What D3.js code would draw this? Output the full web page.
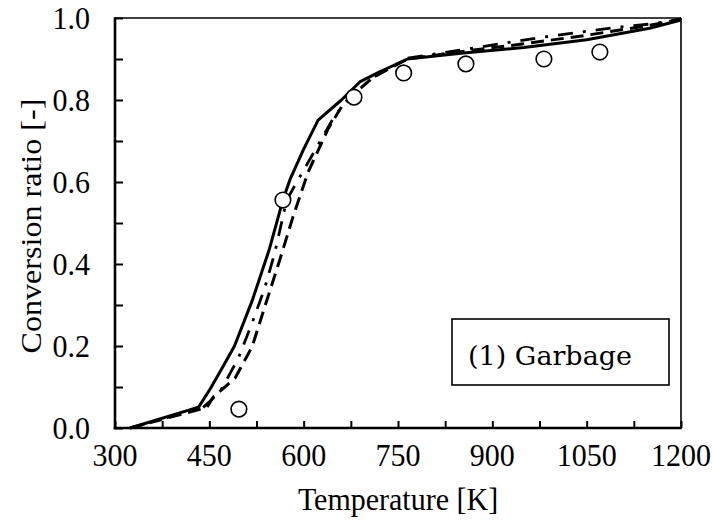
<!DOCTYPE html>
<html>
<head>
<meta charset="utf-8">
<script src="https://cdn.jsdelivr.net/npm/d3@7/dist/d3.min.js"></script>
<style>
  html, body { margin: 0; padding: 0; background: #fff; }
  svg { display: block; }
</style>
</head>
<body>
<svg id="chart" width="715" height="529"></svg>
<script>
// Conversion ratio vs. temperature, sample (1) Garbage

// Calculated curves
const solidT   = [324, 433, 452, 470, 490, 518, 545, 567, 578, 600, 623, 660, 690, 720, 765, 850, 950, 1050, 1150, 1200];
const solidY   = [0, 0.051, 0.097, 0.145, 0.2, 0.31, 0.434, 0.556, 0.605, 0.68, 0.751, 0.80, 0.845, 0.868, 0.90, 0.914, 0.928, 0.947, 0.975, 0.995];

const dashDotT = [324, 440, 467, 496, 518, 538, 554, 573, 591, 621, 650, 680, 710, 765, 850, 970, 1090, 1150, 1200];
const dashDotY = [0, 0.05, 0.088, 0.17, 0.256, 0.341, 0.427, 0.556, 0.605, 0.685, 0.763, 0.815, 0.855, 0.902, 0.922, 0.951, 0.976, 0.985, 0.997];

const dashedT  = [324, 446, 456, 491, 518, 538, 562, 583, 607, 639, 662, 680, 710, 765, 850, 950, 1050, 1150, 1200];
const dashedY  = [0, 0.05, 0.075, 0.122, 0.198, 0.295, 0.41, 0.515, 0.624, 0.73, 0.788, 0.815, 0.855, 0.90, 0.918, 0.937, 0.958, 0.982, 0.997];

// Measured points
const expT = [497, 567, 680, 759, 858, 982, 1071];
const expY = [0.046, 0.556, 0.807, 0.866, 0.888, 0.90, 0.917];

// Axis ticks
const xTicks = [300, 450, 600, 750, 900, 1050, 1200];
const xMinorTicks = [375, 525, 675, 825, 975, 1125];
const yTicks = [0.0, 0.2, 0.4, 0.6, 0.8, 1.0];
const yMinorTicks = [0.1, 0.3, 0.5, 0.7, 0.9];

const xTitle = "Temperature [K]";
const yTitle = "Conversion ratio [-]";
const legendLabel = "(1) Garbage";

const SERIF = "'Liberation Serif', 'Times New Roman', Times, serif";
const LABEL_SERIF = "'DejaVu Serif', 'Liberation Serif', serif";

const svg = d3.select("#chart");
const plot = { left: 115, right: 681, top: 18, bottom: 428 };

const x = d3.scaleLinear().domain([300, 1200]).range([plot.left, plot.right]);
const y = d3.scaleLinear().domain([0, 1]).range([plot.bottom, plot.top]);

// Frame: thin top/right, heavier left/bottom
svg.append("line").attr("x1", plot.left).attr("x2", plot.right).attr("y1", plot.top).attr("y2", plot.top)
  .attr("stroke", "#000").attr("stroke-width", 1.6);
svg.append("line").attr("x1", plot.right).attr("x2", plot.right).attr("y1", plot.top).attr("y2", plot.bottom)
  .attr("stroke", "#000").attr("stroke-width", 1.6);

// Bottom axis with inward ticks
const xAxis = d3.axisBottom(x).tickValues(xTicks.concat(xMinorTicks)).tickSize(-7).tickFormat("");
const gx = svg.append("g").attr("transform", `translate(0,${plot.bottom})`).call(xAxis);
gx.select(".domain").attr("stroke-width", 2.6).attr("d", `M${plot.left - 1.3},0H${plot.right + 0.8}`);
gx.selectAll(".tick line").attr("stroke-width", 2);

// Left axis with inward ticks
const yAxis = d3.axisLeft(y).tickValues(yTicks.concat(yMinorTicks)).tickSize(-8).tickFormat("");
const gy = svg.append("g").attr("transform", `translate(${plot.left},0)`).call(yAxis);
gy.select(".domain").attr("stroke-width", 2.6).attr("d", `M0,${plot.top - 0.8}V${plot.bottom + 1.3}`);
gy.selectAll(".tick line").attr("stroke-width", 2);

// Tick labels
svg.append("g").selectAll("text").data(xTicks).join("text")
  .attr("font-family", SERIF)
  .attr("text-anchor", "middle")
  .attr("font-size", 30)
  .attr("fill", "#000")
  .attr("transform", d => `translate(${x(d)},466) scale(1,1.06)`)
  .text(d => d);

svg.append("g").selectAll("text").data(yTicks).join("text")
  .attr("font-family", SERIF)
  .attr("text-anchor", "end")
  .attr("font-size", 30)
  .attr("fill", "#000")
  .attr("transform", d => `translate(90,${y(d) + 10.5}) scale(1,1.06)`)
  .text(d => d.toFixed(1));

// Axis titles
svg.append("text")
  .attr("font-family", SERIF).attr("fill", "#000")
  .attr("text-anchor", "middle").attr("font-size", 30)
  .attr("transform", `translate(${(plot.left + plot.right) / 2},510) scale(1,1.06)`)
  .text(xTitle);

svg.append("text")
  .attr("font-family", SERIF).attr("fill", "#000")
  .attr("text-anchor", "middle").attr("font-size", 30)
  .attr("transform", `translate(41,${(plot.top + plot.bottom) / 2 + 3}) rotate(-90) scale(1.07,1)`)
  .text(yTitle);

// Curves
const line = d3.line().x(d => x(d[0])).y(d => y(d[1]));
const zip = (a, b) => a.map((v, i) => [v, b[i]]);

svg.append("path").datum(zip(dashedT, dashedY))
  .attr("d", line).attr("fill", "none").attr("stroke", "#000")
  .attr("stroke-width", 3).attr("stroke-dasharray", "13,7");

svg.append("path").datum(zip(dashDotT, dashDotY))
  .attr("d", line).attr("fill", "none").attr("stroke", "#000")
  .attr("stroke-width", 2.8).attr("stroke-dasharray", "15,10,3,10");

svg.append("path").datum(zip(solidT, solidY))
  .attr("d", line).attr("fill", "none").attr("stroke", "#000")
  .attr("stroke-width", 3).attr("stroke-linejoin", "round");

// Measured points as open circles
svg.append("g").selectAll("circle").data(zip(expT, expY)).join("circle")
  .attr("cx", d => x(d[0])).attr("cy", d => y(d[1])).attr("r", 7.8)
  .attr("fill", "#fff").attr("stroke", "#000").attr("stroke-width", 1.6);

// Label box
svg.append("rect").attr("x", 452).attr("y", 319).attr("width", 217).attr("height", 66)
  .attr("fill", "#fff").attr("stroke", "#000").attr("stroke-width", 1.6);
svg.append("text")
  .attr("font-family", LABEL_SERIF).attr("fill", "#000")
  .attr("x", 468).attr("y", 365).attr("font-size", 26)
  .attr("textLength", 164).attr("lengthAdjust", "spacingAndGlyphs")
  .text(legendLabel);
</script>
</body>
</html>
